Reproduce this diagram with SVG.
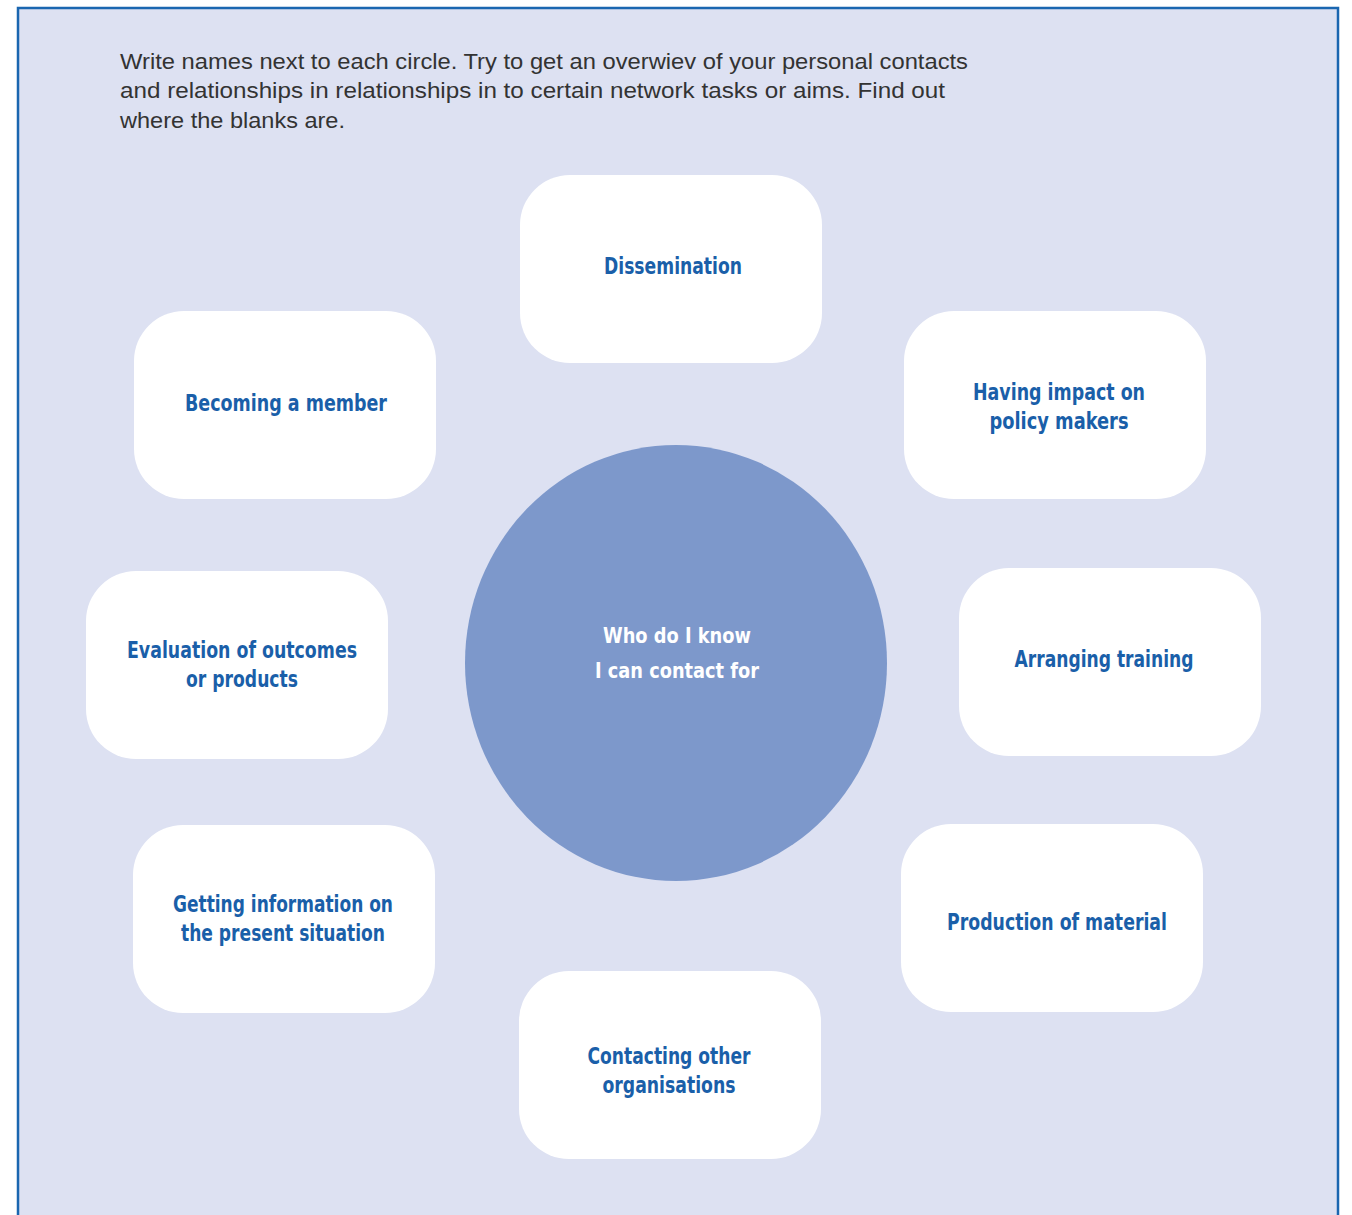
<svg xmlns="http://www.w3.org/2000/svg" width="1352" height="1215" viewBox="0 0 1352 1215">
<style>
.node rect{fill:#ffffff;}
.lbl{font-family:"DejaVu Sans Condensed","DejaVu Sans",sans-serif;font-weight:bold;font-size:23px;fill:#1a5fa9;text-anchor:middle;}
.clbl{font-family:"DejaVu Sans Condensed","DejaVu Sans",sans-serif;font-weight:bold;font-size:22px;fill:#ffffff;text-anchor:middle;}
.intro{font-family:"Liberation Sans",Arial,sans-serif;font-size:22px;fill:#333333;}
</style>
<rect x="0" y="0" width="1352" height="1215" fill="#ffffff"/>
<rect x="18" y="8" width="1320" height="1220" fill="#dde1f2" stroke="#1a66b0" stroke-width="2.5"/>
<g id="intro">
<text class="intro" x="120" y="69" textLength="848" lengthAdjust="spacingAndGlyphs">Write names next to each circle. Try to get an overwiev of your personal contacts</text>
<text class="intro" x="120" y="98" textLength="825" lengthAdjust="spacingAndGlyphs">and relationships in relationships in to certain network tasks or aims. Find out</text>
<text class="intro" x="120" y="128" textLength="225" lengthAdjust="spacingAndGlyphs">where the blanks are.</text>
</g>
<g id="connectors"></g>
<g id="center" class="node">
<ellipse cx="676" cy="663" rx="211" ry="218" fill="#7d98cb"/>
<text class="clbl" x="677" y="643" textLength="148" lengthAdjust="spacingAndGlyphs">Who do I know</text>
<text class="clbl" x="677" y="678" textLength="164" lengthAdjust="spacingAndGlyphs">I can contact for</text>
</g>
<g id="dissemination" class="node">
<rect x="520" y="175" width="302" height="188" rx="50"/>
<text class="lbl" x="673" y="274" textLength="138" lengthAdjust="spacingAndGlyphs">Dissemination</text>
</g>
<g id="becoming-member" class="node">
<rect x="134" y="311" width="302" height="188" rx="50"/>
<text class="lbl" x="286" y="411" textLength="202" lengthAdjust="spacingAndGlyphs">Becoming a member</text>
</g>
<g id="impact-policy" class="node">
<rect x="904" y="311" width="302" height="188" rx="50"/>
<text class="lbl" x="1059" y="400" textLength="172" lengthAdjust="spacingAndGlyphs">Having impact on</text>
<text class="lbl" x="1059" y="429" textLength="139" lengthAdjust="spacingAndGlyphs">policy makers</text>
</g>
<g id="evaluation" class="node">
<rect x="86" y="571" width="302" height="188" rx="50"/>
<text class="lbl" x="242" y="658" textLength="230" lengthAdjust="spacingAndGlyphs">Evaluation of outcomes</text>
<text class="lbl" x="242" y="687" textLength="112" lengthAdjust="spacingAndGlyphs">or products</text>
</g>
<g id="training" class="node">
<rect x="959" y="568" width="302" height="188" rx="50"/>
<text class="lbl" x="1104" y="667" textLength="179" lengthAdjust="spacingAndGlyphs">Arranging training</text>
</g>
<g id="getting-info" class="node">
<rect x="133" y="825" width="302" height="188" rx="50"/>
<text class="lbl" x="283" y="912" textLength="220" lengthAdjust="spacingAndGlyphs">Getting information on</text>
<text class="lbl" x="283" y="941" textLength="204" lengthAdjust="spacingAndGlyphs">the present situation</text>
</g>
<g id="production" class="node">
<rect x="901" y="824" width="302" height="188" rx="50"/>
<text class="lbl" x="1057" y="930" textLength="220" lengthAdjust="spacingAndGlyphs">Production of material</text>
</g>
<g id="contacting" class="node">
<rect x="519" y="971" width="302" height="188" rx="50"/>
<text class="lbl" x="669" y="1064" textLength="163" lengthAdjust="spacingAndGlyphs">Contacting other</text>
<text class="lbl" x="669" y="1093" textLength="133" lengthAdjust="spacingAndGlyphs">organisations</text>
</g>
</svg>
